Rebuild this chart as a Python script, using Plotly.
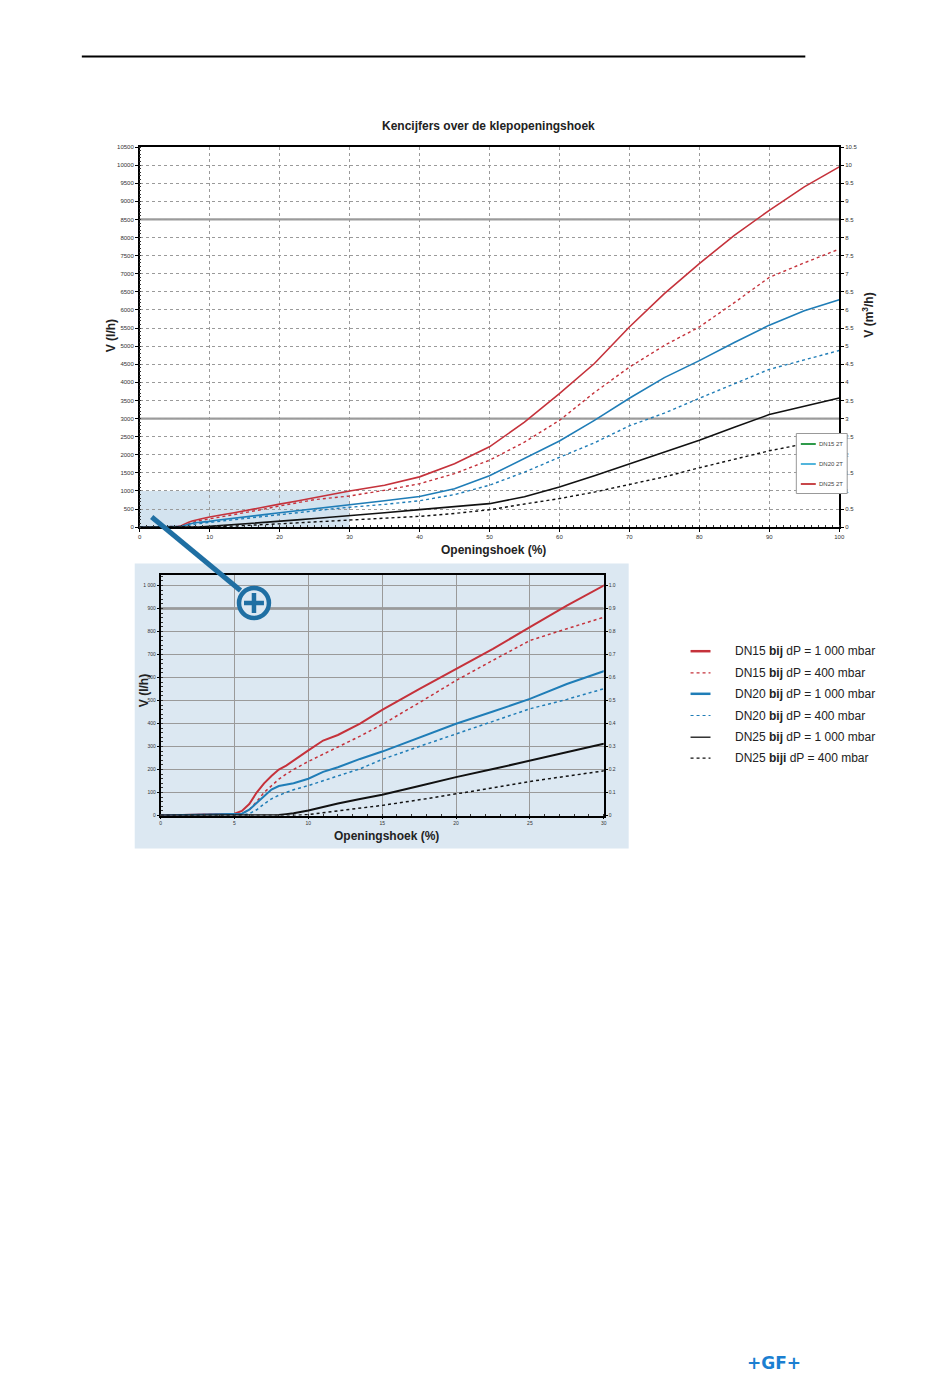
import plotly.graph_objects as go

W, H = 950, 1378          # reference pixel space used for placement
FIG_W, FIG_H = 956, 1384  # rendered figure size
Y_SHIFT = 2.5

# ---------------- data ----------------
opening = [0, 2, 4, 5, 5.5, 6, 6.5, 7, 7.5, 8, 8.5, 9, 10, 11, 12, 13.5, 15, 17.5, 20, 22.5,
           25, 27.5, 30, 35, 40, 45, 50, 55, 60, 65, 70, 75, 80, 85, 90, 95, 100]

dn15_1000 = [0, 3, 5, 8, 20, 50, 100, 140, 172, 200, 217, 238, 283, 326, 350, 400, 459, 550, 638, 725,
             819, 913, 1000, 1160, 1390, 1750, 2220, 2900, 3690, 4520, 5530, 6450, 7280, 8060, 8750, 9400, 9950]
dn15_400 = [0, 2, 4, 5, 8, 25, 60, 100, 130, 158, 180, 200, 235, 265, 298, 345, 396, 490, 587, 675,
            761, 812, 862, 1020, 1200, 1480, 1850, 2350, 2950, 3720, 4420, 5020, 5530, 6200, 6900, 7300, 7680]
dn20_1000 = [0, 2, 4, 5, 8, 25, 55, 85, 113, 128, 134, 140, 160, 190, 210, 246, 278, 340, 399, 452,
             507, 572, 626, 730, 850, 1060, 1420, 1900, 2380, 2950, 3560, 4130, 4600, 5100, 5580, 5980, 6280]
dn20_400 = [0, 1, 2, 3, 3, 8, 25, 50, 72, 88, 101, 112, 130, 152, 172, 203, 244, 300, 355, 410,
            464, 505, 551, 630, 730, 900, 1160, 1520, 1930, 2330, 2800, 3150, 3560, 3960, 4360, 4620, 4880]
dn25_1000 = [0, 0, 0, 0, 0, 0, 0, 0, 1, 2, 6, 10, 22, 38, 52, 72, 90, 128, 167, 202,
             239, 275, 312, 400, 485, 560, 650, 840, 1110, 1420, 1750, 2070, 2400, 2760, 3110, 3340, 3570]
dn25_400 = [0, 0, 0, 0, 0, 0, 0, 0, 0, 0, 0, 0, 4, 12, 20, 33, 44, 68, 93, 120,
            148, 170, 191, 240, 300, 380, 480, 640, 790, 970, 1190, 1390, 1640, 1870, 2110, 2300, 2470]

series_names = ["DN15 bij dP = 1 000 mbar", "DN15 bij dP = 400 mbar",
                "DN20 bij dP = 1 000 mbar", "DN20 bij dP = 400 mbar",
                "DN25 bij dP = 1 000 mbar", "DN25 biji dP = 400 mbar"]
series_values = [dn15_1000, dn15_400, dn20_1000, dn20_400, dn25_1000, dn25_400]

top_legend_labels = ["DN15 2T", "DN20 2T", "DN25 2T"]

main_x_ticks = list(range(0, 101, 10))
main_y_ticks = list(range(0, 10501, 500))
main_y_labels = [str(v) for v in main_y_ticks]
main_y2_ticks = [v / 2 for v in range(0, 22)]
main_y2_labels = [("%g" % v) for v in main_y2_ticks]
inset_x_ticks = list(range(0, 31, 5))
inset_y_ticks = list(range(0, 1001, 100))
inset_y_labels = [str(v) if v < 1000 else "1 000" for v in inset_y_ticks]
inset_y2_ticks = [v / 10 for v in range(0, 11)]
inset_y2_labels = ["0"] + ["0.%d" % v for v in range(1, 10)] + ["1.0"]

# ---------------- styles ----------------
RED = "#c5323b"
BLUE = "#1f7db7"
BLACK = "#111111"
colors = [RED, RED, BLUE, BLUE, BLACK, BLACK]
dashes = ["solid", "dot", "solid", "dot", "solid", "dot"]
main_w = [1.6, 1.4, 1.6, 1.4, 1.6, 1.4]
inset_w = [2.0, 1.5, 2.0, 1.5, 2.0, 1.5]
FONT = "Liberation Sans"


def px(x):
    return x / W


def py(y):
    return 1 - (y - Y_SHIFT) / H


fig = go.Figure()

for name, vals, c, d, w1, w2 in zip(series_names, series_values, colors, dashes, main_w, inset_w):
    fig.add_trace(go.Scatter(x=opening, y=vals, mode="lines", name=name, showlegend=False,
                             line=dict(color=c, dash=d, width=w1), xaxis="x", yaxis="y",
                             hoverinfo="skip"))
    fig.add_trace(go.Scatter(x=opening, y=vals, mode="lines", name=name, showlegend=False,
                             line=dict(color=c, dash=d, width=w2), xaxis="x3", yaxis="y3",
                             hoverinfo="skip"))

# same flow expressed in m3/h, attached to the right-hand axes (transparent; they only carry the axes)
m3h = [v / 1000 for v in dn15_1000]
fig.add_trace(go.Scatter(x=opening, y=m3h, mode="lines", showlegend=False, opacity=0,
                         line=dict(color=RED, width=1), xaxis="x", yaxis="y2", hoverinfo="skip"))
fig.add_trace(go.Scatter(x=opening, y=m3h, mode="lines", showlegend=False, opacity=0,
                         line=dict(color=RED, width=1), xaxis="x3", yaxis="y4", hoverinfo="skip"))

grid_c = "#9a9a9a"
tickf = dict(family=FONT, size=6, color="#333")
tickf2 = dict(family=FONT, size=5, color="#333")

fig.update_layout(
    width=FIG_W, height=FIG_H, margin=dict(l=0, r=0, t=0, b=0),
    paper_bgcolor="white", plot_bgcolor="rgba(0,0,0,0)",
    showlegend=False,
    xaxis=dict(domain=[px(138), px(839)], range=[0, 100], anchor="y",
               tickvals=main_x_ticks, showgrid=True, gridcolor=grid_c, griddash="dot", gridwidth=1,
               showline=True, linecolor="black", linewidth=1.5, mirror=True, zeroline=False,
               ticks="outside", ticklen=3, tickcolor="black", tickfont=tickf,
               minor=dict(dtick=1, ticks="inside", ticklen=2, tickcolor="#333", showgrid=False)),
    yaxis=dict(domain=[py(526.7), py(146.5)], range=[0, 10500], anchor="x",
               tickvals=main_y_ticks, ticktext=main_y_labels, showgrid=True, gridcolor=grid_c,
               griddash="dot", gridwidth=1,
               showline=True, linecolor="black", linewidth=1.5, mirror=True, zeroline=False,
               ticks="outside", ticklen=3, tickcolor="black", tickfont=tickf,
               minor=dict(dtick=100, ticks="inside", ticklen=2, tickcolor="#333", showgrid=False)),
    yaxis2=dict(overlaying="y", side="right", range=[0, 10.5], anchor="x",
                tickvals=main_y2_ticks, ticktext=main_y2_labels, showgrid=False, zeroline=False,
                showline=True, linecolor="black", linewidth=1.5, ticks="outside", ticklen=3,
                tickcolor="black", tickfont=tickf),
    xaxis3=dict(domain=[px(159), px(603)], range=[0, 30], anchor="y3",
                tickvals=inset_x_ticks, showgrid=True, gridcolor=grid_c, gridwidth=1,
                showline=True, linecolor="black", linewidth=1.8, mirror=True, zeroline=False,
                ticks="outside", ticklen=2, tickcolor="black", tickfont=tickf2,
                minor=dict(dtick=1, ticks="inside", ticklen=2, tickcolor="#333", showgrid=False)),
    yaxis3=dict(domain=[py(815), py(574)], range=[0, 1048], anchor="x3",
                tickvals=inset_y_ticks, ticktext=inset_y_labels, showgrid=True, gridcolor=grid_c,
                gridwidth=1, showline=True, linecolor="black", linewidth=1.8, mirror=True,
                zeroline=False, ticks="outside", ticklen=2, tickcolor="black", tickfont=tickf2,
                minor=dict(dtick=20, ticks="inside", ticklen=2, tickcolor="#333", showgrid=False)),
    yaxis4=dict(overlaying="y3", side="right", range=[0, 1.048], anchor="x3",
                tickvals=inset_y2_ticks, ticktext=inset_y2_labels, showgrid=False, zeroline=False,
                showline=True, linecolor="black", linewidth=1.8, ticks="outside", ticklen=2,
                tickcolor="black", tickfont=tickf2),
)

shapes = []
# inset panel background
shapes.append(dict(type="rect", xref="paper", yref="paper", x0=px(133), x1=px(628), y0=py(848), y1=py(563),
                   fillcolor="#dce8f2", line=dict(width=0), layer="below"))
# shaded zoom region in main chart
shapes.append(dict(type="rect", xref="x", yref="y", x0=0, x1=30, y0=0, y1=1000,
                   fillcolor="#d3e3ef", line=dict(width=0), layer="below"))
# emphasised grid lines
for yv in (3000, 8500):
    shapes.append(dict(type="line", xref="x", yref="y", x0=0, x1=100, y0=yv, y1=yv,
                       line=dict(color="#9c9c9c", width=2.2), layer="below"))
shapes.append(dict(type="line", xref="x3", yref="y3", x0=0, x1=30, y0=900, y1=900,
                   line=dict(color="#8c8c8c", width=2.5), layer="below"))
# header rule
shapes.append(dict(type="line", xref="paper", yref="paper", x0=px(80), x1=px(805), y0=py(56), y1=py(56),
                   line=dict(color="black", width=2)))
# connector line + magnifier
CB = "#1f6fa3"
shapes.append(dict(type="line", xref="paper", yref="paper", x0=px(150), y0=py(516.5), x1=px(239), y1=py(590),
                   line=dict(color=CB, width=5), layer="above"))
cx, cy, r = 252.5, 602.5, 15
shapes.append(dict(type="circle", xref="paper", yref="paper", x0=px(cx - r), x1=px(cx + r),
                   y0=py(cy + r), y1=py(cy - r), fillcolor="#dce8f2", line=dict(color=CB, width=4.5),
                   layer="above"))
shapes.append(dict(type="line", xref="paper", yref="paper", x0=px(cx - 10), x1=px(cx + 10), y0=py(cy), y1=py(cy),
                   line=dict(color=CB, width=4.5), layer="above"))
shapes.append(dict(type="line", xref="paper", yref="paper", x0=px(cx), x1=px(cx), y0=py(cy - 10), y1=py(cy + 10),
                   line=dict(color=CB, width=4.5), layer="above"))
# small legend box inside main chart
shapes.append(dict(type="rect", xref="paper", yref="paper", x0=px(796), x1=px(847), y0=py(493), y1=py(433),
                   fillcolor="white", line=dict(color="#999", width=1), layer="above"))
top_leg_colors = ["#2e9a4a", "#52b5dc", "#c8474a"]
top_leg_y = [443.5, 463.5, 483.5]
annotations = []
for lab, c, yy in zip(top_legend_labels, top_leg_colors, top_leg_y):
    shapes.append(dict(type="line", xref="paper", yref="paper", x0=px(800.5), x1=px(815.5), y0=py(yy), y1=py(yy),
                       line=dict(color=c, width=2), layer="above"))
    annotations.append(dict(xref="paper", yref="paper", x=px(816.5), y=py(yy), text=lab, showarrow=False,
                            xanchor="left", yanchor="middle", font=dict(family=FONT, size=6, color="#444")))

# legend to the right of the inset
leg_y = [650.7, 672.3, 693.3, 715, 736.7, 757.7]
leg_w = [2.5, 1.2, 2.5, 1.2, 1.3, 1.2]
for name, c, d, w, yy in zip(series_names, colors, dashes, leg_w, leg_y):
    shapes.append(dict(type="line", xref="paper", yref="paper", x0=px(690), x1=px(710), y0=py(yy), y1=py(yy),
                       line=dict(color=c, width=w, dash=d)))
    txt = name.replace(" bij ", " <b>bij</b> ").replace(" biji ", " <b>biji</b> ")
    annotations.append(dict(xref="paper", yref="paper", x=px(733), y=py(yy), text=txt, showarrow=False,
                            xanchor="left", yanchor="middle", font=dict(family=FONT, size=12, color="#222")))

bold12 = dict(family=FONT, size=12, color="#222")
annotations += [
    dict(xref="paper", yref="paper", x=px(488), y=py(125), text="<b>Kencijfers over de klepopeningshoek</b>",
         showarrow=False, xanchor="center", yanchor="middle", font=dict(family=FONT, size=12, color="#222")),
    dict(xref="paper", yref="paper", x=px(109), y=py(335), text="<b>V (l/h)</b>", textangle=-90,
         showarrow=False, xanchor="center", yanchor="middle", font=bold12),
    dict(xref="paper", yref="paper", x=px(867), y=py(315), text="<b>V (m<sup>3</sup>/h)</b>", textangle=-90,
         showarrow=False, xanchor="center", yanchor="middle", font=bold12),
    dict(xref="paper", yref="paper", x=px(493), y=py(549), text="<b>Openingshoek (%)</b>",
         showarrow=False, xanchor="center", yanchor="middle", font=bold12),
    dict(xref="paper", yref="paper", x=px(142), y=py(690), text="<b>V (l/h)</b>", textangle=-90,
         showarrow=False, xanchor="center", yanchor="middle", font=bold12),
    dict(xref="paper", yref="paper", x=px(385), y=py(835), text="<b>Openingshoek (%)</b>",
         showarrow=False, xanchor="center", yanchor="middle", font=bold12),
    dict(xref="paper", yref="paper", x=px(774), y=py(1362), text="<b>+GF+</b>",
         showarrow=False, xanchor="center", yanchor="middle",
         font=dict(family="DejaVu Sans", size=17, color="#1b7fd1")),
]

fig.update_layout(shapes=shapes, annotations=annotations)
fig.write_html("out.html", config={"displayModeBar": False},
               post_script=("document.documentElement.style.margin='0px';"
                            "document.documentElement.style.overflow='hidden';"
                            "document.body.style.margin='0px';document.body.style.padding='0px';"
                            "document.body.style.overflow='hidden';"
                            "var gd=document.getElementById('{plot_id}');"
                            "gd.style.position='fixed';gd.style.left='0px';gd.style.top='0px';"))
